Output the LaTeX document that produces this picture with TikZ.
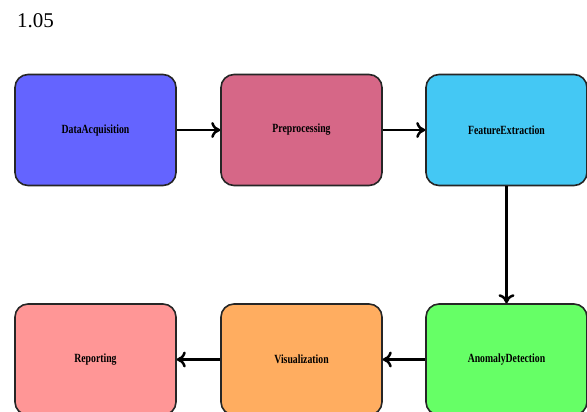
\documentclass[tikz,border=0pt]{standalone}
\usepackage{fontspec}
\setmainfont{Liberation Serif}
\newfontfamily\boxfont[FakeStretch=0.78]{Liberation Serif}
\usetikzlibrary{calc,arrows.meta}

\definecolor{cBlue}{RGB}{100,100,255}
\definecolor{cRose}{RGB}{214,103,135}
\definecolor{cSky}{RGB}{68,200,244}
\definecolor{cGreen}{RGB}{102,255,102}
\definecolor{cOrange}{RGB}{255,173,96}
\definecolor{cPink}{RGB}{255,150,150}

\tikzset{
    stage/.style={draw=black!85, line width=1.6pt, rounded corners=13pt,
        minimum width=161pt, minimum height=111pt, inner sep=0pt,
        font=\boxfont\bfseries\fontsize{12.5}{13}\selectfont},
    flow/.style={line width=2.5pt, -{To[length=9pt,width=16pt]}}
}

\begin{document}
\begin{tikzpicture}[x=1pt,y=1pt]
       %整張圖的範圍
       \useasboundingbox (0,0) rectangle (587,412);

       %各方塊的中心
       \coordinate (cDataPt) at (95.5,282);
       \coordinate (cPrePt) at (301.5,282);
       \coordinate (cFeatPt) at (506.5,282);
       \coordinate (cAnomPt) at (506.5,52.5);
       \coordinate (cVisPt) at (301.5,52.5);
       \coordinate (cRepPt) at (95.5,52.5);

       \node[anchor=base west, inner sep=0pt, font=\fontsize{21}{23}\selectfont] (nVersion) at (17,384) {1.05};

       %畫出流程方塊
       \foreach \v/\n/\c/\t in
       {cDataPt/nData/cBlue/DataAcquisition,
           cPrePt/nPre/cRose/Preprocessing,
           cFeatPt/nFeat/cSky/FeatureExtraction,
           cAnomPt/nAnom/cGreen/AnomalyDetection,
           cVisPt/nVis/cOrange/Visualization,
           cRepPt/nRep/cPink/Reporting
        }
        {
            \node[stage, fill=\c] (\n) at (\v) {\t};
        };

       %畫出箭頭
       \draw[flow] (nData) -- (nPre);
       \draw[flow] (nPre) -- (nFeat);
       \draw[flow] (nFeat) -- (nAnom);
       \draw[flow] (nAnom) -- (nVis);
       \draw[flow] (nVis) -- (nRep);
\end{tikzpicture}
\end{document}
